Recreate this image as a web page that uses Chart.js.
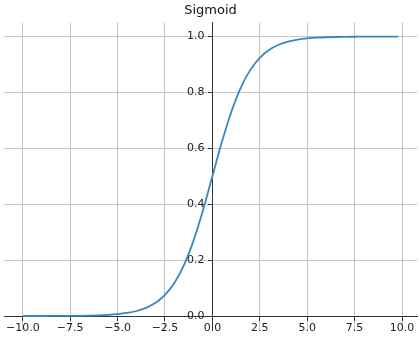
<!DOCTYPE html>
<html><head><meta charset="utf-8">
<script src="https://cdn.jsdelivr.net/npm/chart.js@4/dist/chart.umd.min.js"></script>
<style>html,body{margin:0;padding:0;background:#fff;overflow:hidden}#wrap{width:420px;height:341px}</style>
</head><body><div id="wrap"><canvas id="c" width="420" height="341"></canvas></div>
<script>
const chartTitle = 'Sigmoid';
const xValues = [-10,-9.5,-9,-8.5,-8,-7.5,-7,-6.5,-6,-5.5,-5,-4.5,-4,-3.5,-3,-2.5,-2,-1.5,-1,-0.5,0,0.5,1,1.5,2,2.5,3,3.5,4,4.5,5,5.5,6,6.5,7,7.5,8,8.5,9,9.5,9.8];
const yValues = [0.0000,0.0001,0.0001,0.0002,0.0003,0.0006,0.0009,0.0015,0.0025,0.0041,0.0067,0.0110,0.0180,0.0293,0.0474,0.0759,0.1192,0.1824,0.2689,0.3775,0.5000,0.6225,0.7311,0.8176,0.8808,0.9241,0.9526,0.9707,0.9820,0.9890,0.9933,0.9959,0.9975,0.9985,0.9991,0.9994,0.9997,0.9998,0.9999,0.9999,0.9999];
const xTicks = [-10,-7.5,-5,-2.5,0,2.5,5,7.5,10];
const yTicks = [0,0.2,0.4,0.6,0.8,1.0];

const fmt = v => v.toFixed(1).replace('-', '\u2212');
const FONT = 'DejaVu Sans';
const points = xValues.map((x, i) => ({x: x, y: yValues[i]}));

// shift y tick labels left of the tick marks (axis sits at x = 0)
const yLabelShift = {
  id: 'yLabelShift',
  beforeDraw(chart) {
    const s = chart.scales.y;
    const items = s.getLabelItems(chart.chartArea);
    if (!items._shifted) {
      items.forEach(it => { it.options.translation[0] -= 8; });
      items._shifted = true;
    }
  }
};

new Chart(document.getElementById('c'), {
  type: 'line',
  data: { datasets: [{
    data: points,
    borderColor: '#3a86bd',
    borderWidth: 1.8,
    pointRadius: 0,
    fill: false,
    cubicInterpolationMode: 'monotone'
  }]},
  plugins: [yLabelShift],
  options: {
    responsive: false,
    devicePixelRatio: 1,
    animation: false,
    layout: { padding: { left: 4, right: 3, top: 0, bottom: 11 } },
    plugins: {
      legend: { display: false },
      tooltip: { enabled: false },
      title: { display: true, text: chartTitle, color: '#111',
        font: { family: FONT, size: 13, weight: 'normal' },
        padding: { top: 3, bottom: 4 } }
    },
    scales: {
      x: {
        type: 'linear', min: -10.99, max: 10.79,
        position: { y: 0 },
        afterBuildTicks: s => { s.ticks = xTicks.map(v => ({value: v})); },
        grid: { color: '#c4c4c4', lineWidth: 1, tickColor: '#333', tickLength: 4, drawTicks: true },
        border: { color: '#333', width: 1 },
        ticks: { color: '#222', font: { family: FONT, size: 11 }, padding: 2, maxRotation: 0, autoSkip: false,
          callback: v => fmt(v) }
      },
      y: {
        type: 'linear', min: -0.05, max: 1.05,
        position: { x: 0 },
        afterBuildTicks: s => { s.ticks = yTicks.map(v => ({value: v})); },
        grid: { color: '#c4c4c4', lineWidth: 1, tickColor: '#333', tickLength: 4, drawTicks: true },
        border: { color: '#333', width: 1 },
        ticks: { color: '#222', font: { family: FONT, size: 11 }, padding: 2, autoSkip: false,
          callback: v => fmt(v) }
      }
    }
  }
});
</script>
</body></html>
